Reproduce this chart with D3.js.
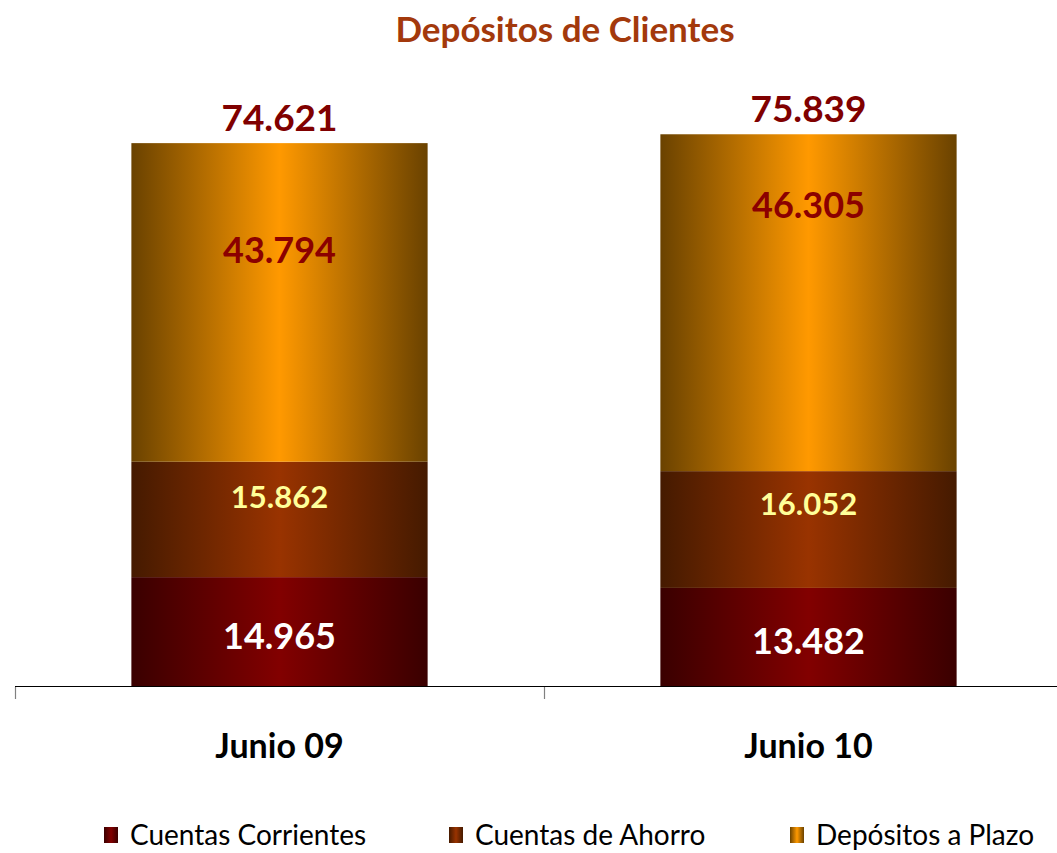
<!DOCTYPE html>
<html>
<head>
<meta charset="utf-8">
<script src="https://cdn.jsdelivr.net/npm/d3@7"></script>
<style>
  body { margin: 0; background: #fff; }
  svg text { font-family: Lato, "Open Sans", sans-serif; }
</style>
</head>
<body>
<div id="chart"></div>
<script>
// data
var categories = ['Junio 09', 'Junio 10']
var seriesNames = ['Cuentas Corrientes', 'Cuentas de Ahorro', 'Depósitos a Plazo']
var corrientes = [14965, 13482]
var ahorro = [15862, 16052]
var plazo = [43794, 46305]
var totals = [74621, 75839]

var format = d3.format(',')
var fmt = v => format(v).replace(/,/g, '.')

var width = 1057
var height = 853

// gradient stops per series: [edge, center]
var gradColors = [
  ['#3a0000', '#820000'],
  ['#451a00', '#993300'],
  ['#6a4200', '#ff9900']
]
var labelColors = ['#ffffff', '#ffff99', '#8b0000']
var labelSizes = [36, 31, 36]

var svg = d3
  .select('#chart')
  .append('svg')
  .attr('width', width)
  .attr('height', height)

var defs = svg.append('defs')
gradColors.forEach((c, i) => {
  var g = defs.append('linearGradient')
    .attr('id', 'grad' + i)
    .attr('x1', '0%').attr('x2', '100%')
    .attr('y1', '0%').attr('y2', '0%')
  g.append('stop').attr('offset', '0%').attr('stop-color', c[0])
  g.append('stop').attr('offset', '50%').attr('stop-color', c[1])
  g.append('stop').attr('offset', '100%').attr('stop-color', c[0])
})

var x = d3.scaleBand()
  .domain(categories)
  .range([15, 1073])
  .paddingInner(0.44)
  .paddingOuter(0.22)

var y = d3.scaleLinear()
  .domain([0, 80000])
  .range([686, 104])

var table = categories.map((c, i) => ({
  cat: c,
  [seriesNames[0]]: corrientes[i],
  [seriesNames[1]]: ahorro[i],
  [seriesNames[2]]: plazo[i]
}))

var stack = d3.stack().keys(seriesNames)
var layers = stack(table)

// title
svg.append('text')
  .attr('x', 565)
  .attr('y', 42)
  .attr('text-anchor', 'middle')
  .attr('font-size', 35)
  .attr('font-weight', 'bold')
  .attr('fill', '#a3390c')
  .text('Depósitos de Clientes')

// bars
var layerG = svg.append('g')
  .selectAll('g')
  .data(layers)
  .enter()
  .append('g')
  .attr('fill', (d, i) => 'url(#grad' + i + ')')

layerG.selectAll('rect')
  .data(d => d)
  .enter()
  .append('rect')
  .attr('x', d => x(d.data.cat))
  .attr('width', x.bandwidth())
  .attr('y', d => y(d[1]))
  .attr('height', d => y(d[0]) - y(d[1]))

// segment labels (vertical offset within the segment, fraction from top)
var labelPos = [
  [0.54, 0.54],
  [0.30, 0.28],
  [0.335, 0.21]
]
layers.forEach((layer, i) => {
  svg.append('g')
    .selectAll('text')
    .data(layer)
    .enter()
    .append('text')
    .attr('x', d => x(d.data.cat) + x.bandwidth() / 2)
    .attr('y', (d, j) => y(d[1]) + (y(d[0]) - y(d[1])) * labelPos[i][j] + labelSizes[i] * 0.36)
    .attr('text-anchor', 'middle')
    .attr('font-size', labelSizes[i])
    .attr('font-weight', 'bold')
    .attr('fill', labelColors[i])
    .text(d => fmt(d.data[layer.key]))
})

// totals
svg.append('g')
  .selectAll('text')
  .data(totals)
  .enter()
  .append('text')
  .attr('x', (d, i) => x(categories[i]) + x.bandwidth() / 2)
  .attr('y', d => y(d) - 12)
  .attr('text-anchor', 'middle')
  .attr('font-size', 37)
  .attr('font-weight', 'bold')
  .attr('fill', '#800000')
  .text(d => fmt(d))

// axis
svg.append('line')
  .attr('x1', 15).attr('x2', width)
  .attr('y1', 686.5).attr('y2', 686.5)
  .attr('stroke', '#000')
  .attr('stroke-width', 1.2)

var tickX = categories.map(c => x(c) - x.step() * x.paddingInner() / 2)
tickX.push(x.range()[1])
svg.append('g')
  .selectAll('line')
  .data(tickX)
  .enter()
  .append('line')
  .attr('x1', d => Math.round(d) + 0.5)
  .attr('x2', d => Math.round(d) + 0.5)
  .attr('y1', 687)
  .attr('y2', 699)
  .attr('stroke', '#808080')
  .attr('stroke-width', 1.2)

svg.append('g')
  .selectAll('text')
  .data(categories)
  .enter()
  .append('text')
  .attr('x', d => x(d) + x.bandwidth() / 2)
  .attr('y', 758)
  .attr('text-anchor', 'middle')
  .attr('font-size', 34)
  .attr('font-weight', 'bold')
  .attr('fill', '#000')
  .text(d => d)

// legend
var legendX = [104, 449, 790]
var legend = svg.append('g')
  .selectAll('g')
  .data(seriesNames)
  .enter()
  .append('g')
  .attr('transform', (d, i) => 'translate(' + legendX[i] + ',827)')

legend.append('rect')
  .attr('width', 14)
  .attr('height', 16)
  .attr('fill', (d, i) => 'url(#grad' + i + ')')

legend.append('text')
  .attr('x', 26)
  .attr('y', 18)
  .attr('font-size', 28)
  .attr('fill', '#000')
  .text(d => d)
</script>
</body>
</html>
